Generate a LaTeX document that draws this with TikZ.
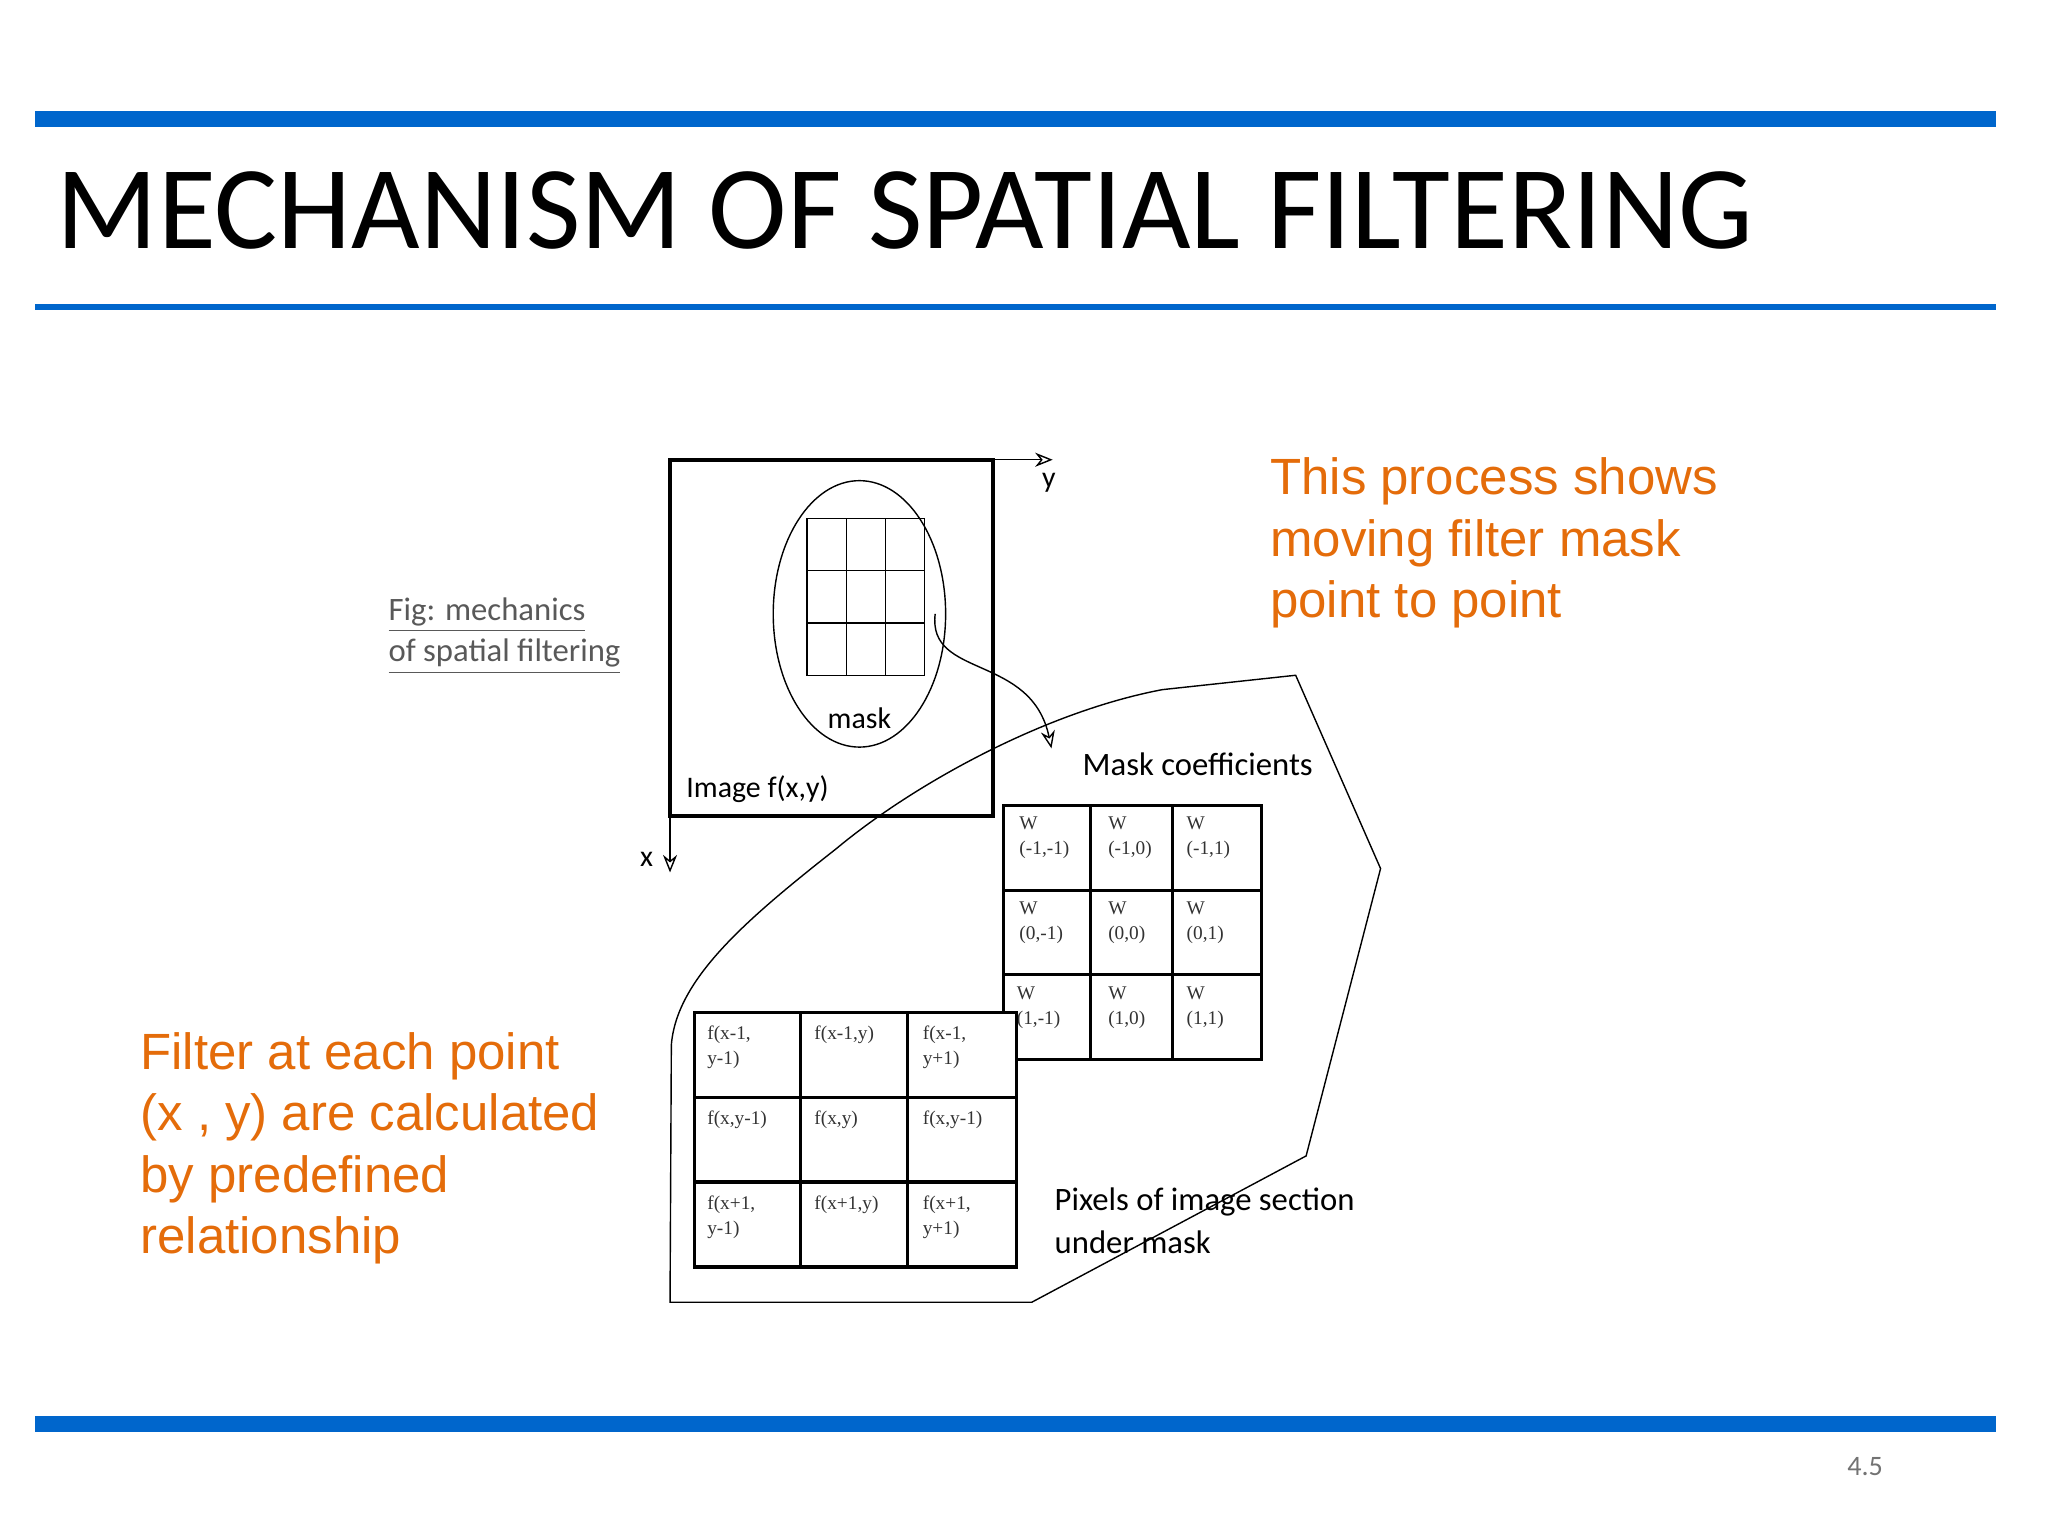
\documentclass[tikz,border=0pt]{standalone}
\usepackage{fontspec}
\setmainfont{Carlito}
\newfontfamily\arialf{Liberation Sans}
\newfontfamily\timesf{Liberation Serif}
\usetikzlibrary{arrows.meta}
\definecolor{barblue}{RGB}{0,102,204}
\definecolor{orng}{RGB}{228,108,10}
\begin{document}
\begin{tikzpicture}[x=0.01306cm,y=-0.01306cm,
  lab/.style={font=\fontsize{8.5}{10}\selectfont, inner sep=0pt},
  cell/.style={font=\timesf\fontsize{5.5}{7}\selectfont, anchor=north west, align=left, inner sep=0pt, text=black!80},
  otext/.style={font=\arialf\fontsize{14.5}{17.5}\selectfont, text=orng, align=left, anchor=north west, inner sep=0pt},
  arr/.style={-{Stealth[length=5pt,width=4pt,open]}, thin}]
\useasboundingbox (0,0) rectangle (1568,1176);
\fill[barblue] (27,85) rectangle (1528,97);
\draw[barblue, line width=1.5pt] (27,235) -- (1528,235);
\fill[barblue] (27,1084) rectangle (1528,1096);
\node[anchor=base west, inner sep=0pt, font=\fontsize{33.7}{36}\selectfont] (title) at (43,190) {MECHANISM OF SPATIAL FILTERING};
\node[anchor=base, inner sep=0pt, text=black!55, font=\fontsize{8}{9}\selectfont] (pg) at (1428,1130) {4.5};
\node[otext] (t1) at (972,350) {This process shows\\moving filter mask\\point to point};
\node[otext] (t2) at (107,790) {Filter at each point\\(x , y) are calculated\\by predefined\\relationship};
\node[lab, anchor=west, text=black!65, font=\fontsize{9.3}{10}\selectfont] (fig1) at (297,471) {\underline{Fig: mechanics}};
\node[lab, anchor=west, text=black!65, font=\fontsize{9.3}{10}\selectfont] (fig2) at (297,503) {\underline{of spatial filtering}};
\draw[line width=1.2pt] (513,352) rectangle (760,625);
\coordinate (yo) at (760,352); \coordinate (ye) at (806,352);
\coordinate (xo) at (513,625); \coordinate (xe) at (513,668);
\draw[arr] (yo) -- (ye);
\draw[arr] (xo) -- (xe);
\node[lab] (ylab) at (803,370) {y};
\node[lab] (xlab) at (495,658) {x};
\draw (658,470) ellipse [x radius=66, y radius=102];
\draw (618,397) rectangle (708,517);
\foreach \x in {648,678} \draw (\x,397) -- (\x,517);
\foreach \y in {437,477} \draw (618,\y) -- (708,\y);
\node[lab] (mask) at (658,550) {mask};
\node[lab, anchor=west] (img) at (525,604) {Image f(x,y)};
\coordinate (cs) at (716,470);
\coordinate (ce) at (805,573);
\draw[arr] (cs) .. controls (710,520) and (790,500) .. (ce);
\draw (513,997) -- (790,997) -- (1000,885) -- (1057,665) -- (992,517) -- (890,528)
  .. controls (800,545) and (700,600) .. (640,650)
  .. controls (570,705) and (518,750) .. (514,800) -- cycle;
\node[lab, font=\fontsize{9.3}{10}\selectfont] (mc) at (917,585) {Mask coefficients};
\fill[white] (768,617) rectangle (966,811);
\draw[line width=0.9pt] (768,617) -- (966,617) -- (966,811) -- (768,811) -- cycle;
\foreach \x in {835,898} \draw[line width=0.9pt] (\x,617) -- (\x,811);
\foreach \y in {682,746} \draw[line width=0.9pt] (768,\y) -- (966,\y);
\node[cell] at (780,625) {W\\(-1,-1)};
\node[cell] at (848,625) {W\\(-1,0)};
\node[cell] at (908,625) {W\\(-1,1)};
\node[cell] at (780,690) {W\\(0,-1)};
\node[cell] at (848,690) {W\\(0,0)};
\node[cell] at (908,690) {W\\(0,1)};
\node[cell] at (778,755) {W\\(1,-1)};
\node[cell] at (848,755) {W\\(1,0)};
\node[cell] at (908,755) {W\\(1,1)};
\fill[white] (532,775) rectangle (778,970);
\draw[line width=0.9pt] (532,775) -- (778,775) -- (778,970) -- (532,970) -- cycle;
\foreach \x in {613,695} \draw[line width=0.9pt] (\x,775) -- (\x,970);
\foreach \y in {840,905} \draw[line width=0.9pt] (532,\y) -- (778,\y);
\node[cell] at (541,785) {f(x-1,\\y-1)};
\node[cell] at (623,785) {f(x-1,y)};
\node[cell] at (706,785) {f(x-1,\\y+1)};
\node[cell] at (541,850) {f(x,y-1)};
\node[cell] at (623,850) {f(x,y)};
\node[cell] at (706,850) {f(x,y-1)};
\node[cell] at (541,915) {f(x+1,\\y-1)};
\node[cell] at (623,915) {f(x+1,y)};
\node[cell] at (706,915) {f(x+1,\\y+1)};
\node[lab, anchor=west, font=\fontsize{9.3}{10}\selectfont] (pix1) at (807,920) {Pixels of image section};
\node[lab, anchor=west, font=\fontsize{9.3}{10}\selectfont] (pix2) at (807,951) {under mask};
\end{tikzpicture}
\end{document}
